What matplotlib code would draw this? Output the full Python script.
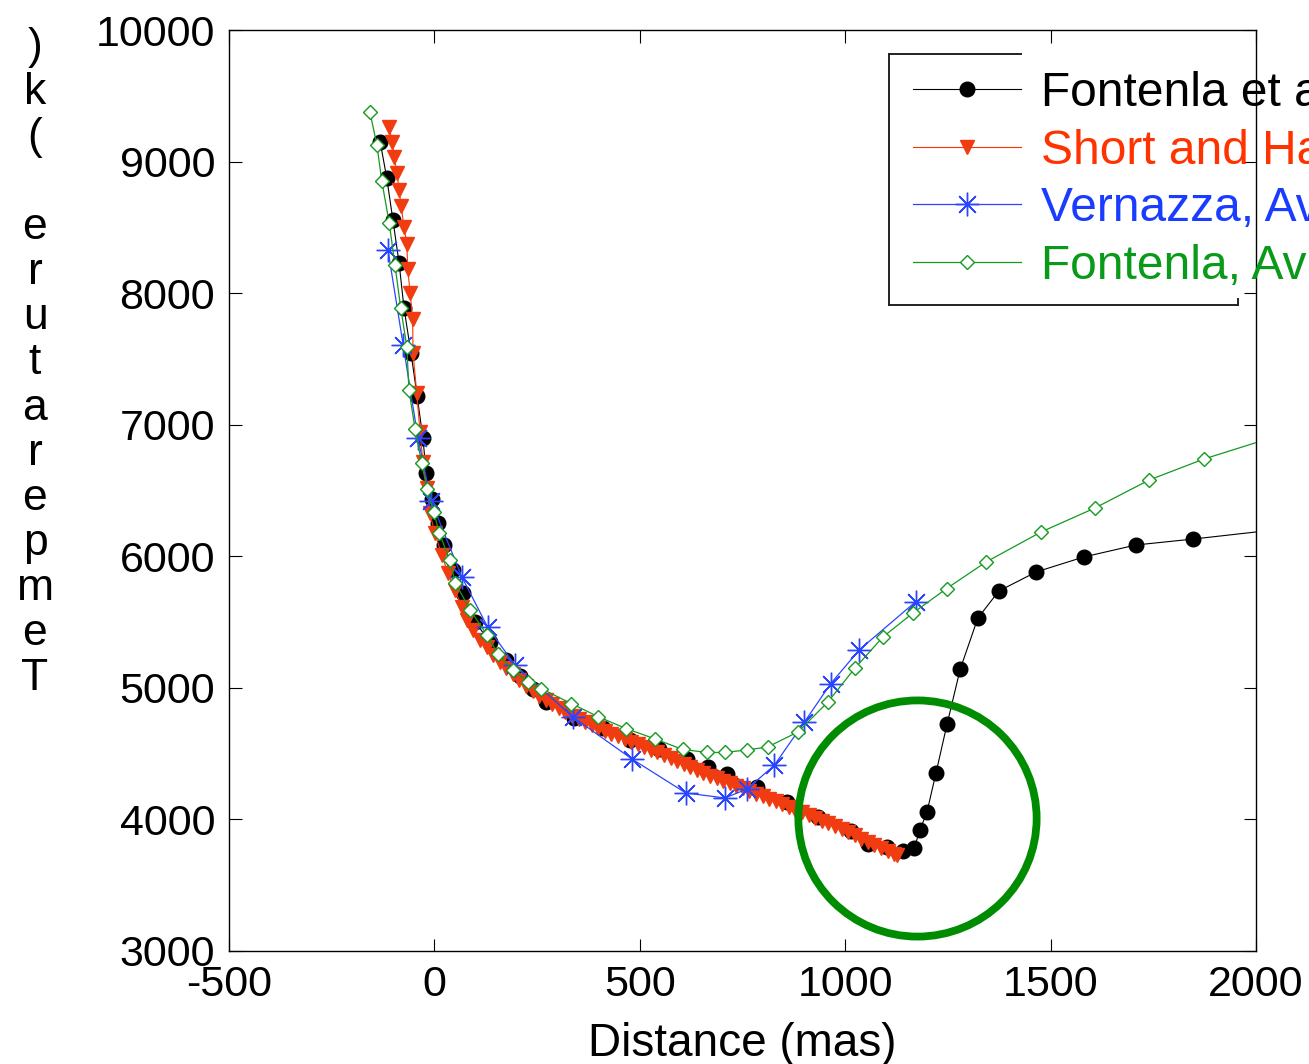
import matplotlib
matplotlib.use("Agg")
import matplotlib.pyplot as plt
from matplotlib.patches import Ellipse
from matplotlib.lines import Line2D

plt.rcParams['font.family'] = ['Liberation Sans', 'DejaVu Sans']
plt.rcParams['axes.unicode_minus'] = False

# ---- data ----
fal09_x = [-132, -116, -101, -86, -74, -57, -42, -28, -20, -7, 9, 23, 45, 70, 99, 135, 174, 208,
           240, 272, 340, 410, 476, 547, 615, 666, 712, 785, 858, 934, 1014, 1056, 1102, 1141,
           1168, 1182, 1199, 1221, 1248, 1280, 1323, 1374, 1465, 1581, 1708, 1847, 2100]
fal09_y = [9151, 8875, 8556, 8231, 7887, 7545, 7218, 6899, 6635, 6435, 6253, 6086, 5896, 5721,
           5501, 5349, 5212, 5090, 4991, 4893, 4771, 4695, 4604, 4535, 4459, 4399, 4345, 4246,
           4132, 4018, 3912, 3813, 3791, 3760, 3783, 3920, 4056, 4353, 4725, 5143, 5531, 5736,
           5881, 5995, 6086, 6131, 6220]

sh_x = [-110, -103, -98, -91, -86, -81, -74, -67, -65, -59, -53, -52, -43, -35, -28, -18, -11,
        1, 18, 33, 50, 67, 79, 95, 111, 127, 143, 159, 175, 191, 207, 223, 239, 255, 271, 287,
        303, 319, 335, 351, 367, 383, 399, 415, 431, 447, 463, 479, 495, 511, 527, 543, 559,
        575, 591, 607, 623, 639, 655, 671, 687, 703, 719, 735, 751, 767, 783, 799, 815, 831,
        847, 863, 879, 895, 911, 927, 943, 959, 975, 991, 1007, 1023, 1039, 1055, 1071, 1087,
        1103, 1119, 1126]
sh_y = [9263, 9149, 9035, 8913, 8784, 8662, 8503, 8374, 8184, 8001, 7804, 7545, 7241, 6945,
        6717, 6519, 6329, 6177, 6010, 5873, 5744, 5615, 5516, 5440, 5364, 5308, 5252, 5200,
        5149, 5102, 5059, 5017, 4979, 4941, 4904, 4875, 4846, 4817, 4788, 4763, 4741, 4718,
        4695, 4672, 4651, 4632, 4612, 4592, 4573, 4552, 4530, 4509, 4488, 4467, 4446, 4424,
        4401, 4379, 4356, 4333, 4312, 4293, 4274, 4255, 4236, 4217, 4197, 4177, 4157, 4137,
        4117, 4096, 4074, 4053, 4031, 4011, 3991, 3971, 3950, 3929, 3903, 3878, 3852, 3827,
        3802, 3781, 3760, 3739, 3730]

val_x = [-113, -76, -40, -8, 67, 130, 196, 337, 481, 612, 707, 761, 827, 900, 965, 1034, 1172]
val_y = [8328, 7606, 6899, 6420, 5843, 5459, 5174, 4779, 4459, 4201, 4163, 4231, 4410, 4737,
         5033, 5288, 5656]

fal93_x = [-157, -140, -128, -110, -96, -82, -67, -62, -47, -31, -18, -2, 12, 37, 51, 87, 128,
           155, 191, 228, 260, 333, 398, 466, 538, 604, 664, 707, 760, 811, 885, 958, 1024,
           1092, 1165, 1247, 1343, 1477, 1608, 1740, 1873, 2100]
fal93_y = [9377, 9126, 8852, 8533, 8214, 7887, 7591, 7264, 6967, 6709, 6511, 6340, 6177, 5972,
           5797, 5592, 5402, 5257, 5136, 5045, 4995, 4881, 4782, 4691, 4611, 4532, 4509, 4509,
           4528, 4550, 4665, 4893, 5151, 5387, 5569, 5755, 5957, 6185, 6367, 6580, 6739, 6962]

labels = ["Fontenla et al. (2009)", "Short and Hauschildt (2009)",
          "Vernazza, Avrett and Loeser (1981)", "Fontenla, Avrett and Loeser (1993)"]
xticks = [-500, 0, 500, 1000, 1500, 2000]
yticks = [3000, 4000, 5000, 6000, 7000, 8000, 9000, 10000]

c_black = '#000000'
c_red = '#ff3300'
c_blue = '#2a45ff'
c_green = '#149a1e'

W, H = 1309, 1064
fig = plt.figure(figsize=(W / 100, H / 100), dpi=100)
ax = fig.add_axes([229 / W, 1 - 951 / H, (1256 - 229) / W, (951 - 30) / H])

ax.plot(fal09_x, fal09_y, '-', color=c_black, lw=0.8, marker='o', ms=10.5,
        mfc=c_black, mec=c_black, label=labels[0], zorder=3)
ax.plot(sh_x, sh_y, '-', color=c_red, lw=0.8, marker='v', ms=10,
        mfc='#f03c10', mec='#f03c10', label=labels[1], zorder=4)
ax.plot(val_x, val_y, '-', color=c_blue, lw=0.9, marker=(8, 2, 0), ms=17,
        mew=1.0, mec=c_blue, label=labels[2], zorder=5)
ax.plot(fal93_x, fal93_y, '-', color=c_green, lw=0.9, marker='D', ms=7.5,
        mfc='white', mec=c_green, mew=1.0, label=labels[3], zorder=6)

circ = Ellipse((1176, 4007), 580, 1795, fill=False, ec='#008c00', lw=5.6, zorder=7)
ax.add_patch(circ)

ax.set_xlim(-500, 2000)
ax.set_ylim(3000, 10000)
ax.set_xticks(xticks)
ax.set_yticks(yticks)
ax.tick_params(axis='both', which='major', direction='in', length=9, width=0.8,
               top=True, right=True, labelsize=31, pad=10)
for s in ax.spines.values():
    s.set_linewidth(1.0)
ax.set_xlabel("Distance (mas)", fontsize=33, labelpad=12)

# stacked y label as in the reference
ylab = "\n".join(list(")k( erutarepmeT"))
fig.text(35 / W, 1 - 27 / H, ylab, ha='center', va='top', fontsize=32,
         linespacing=1.127, multialignment='center')

leg = ax.legend(loc='upper left', bbox_to_anchor=(913 / W, 1 - 71 / H),
                bbox_transform=fig.transFigure, frameon=False, fontsize=34.5,
                handlelength=2.25, handletextpad=0.42, labelspacing=0.262,
                borderpad=0, borderaxespad=0, numpoints=1)
for t, c in zip(leg.get_texts(), [c_black, c_red, '#1a3cff', '#0a9a1a']):
    t.set_color(c)
leg.set_zorder(10)

# legend frame as it appears in the reference
def fx(px):
    return px / W

def fy(py):
    return 1 - py / H

fr = dict(color='#222222', lw=1.4, transform=fig.transFigure, zorder=11)
fig.add_artist(Line2D([fx(889), fx(889)], [fy(54), fy(305)], **fr))
fig.add_artist(Line2D([fx(889), fx(1021)], [fy(54), fy(54)], **fr))
fig.add_artist(Line2D([fx(889), fx(1238)], [fy(305), fy(305)], **fr))
fig.add_artist(Line2D([fx(1238), fx(1238)], [fy(299), fy(305)], **fr))

fig.savefig("out.png", dpi=100)
